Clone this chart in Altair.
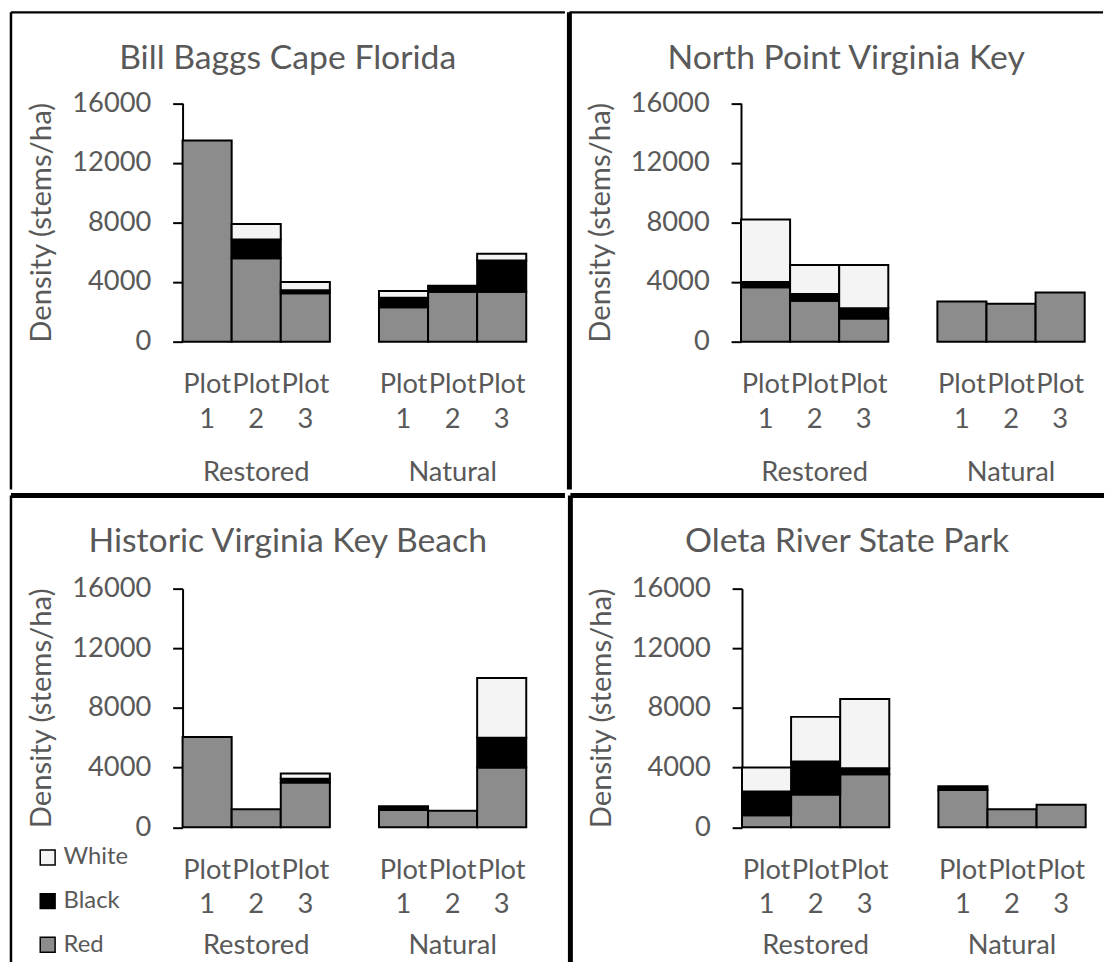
import altair as alt
import pandas as pd

# ---------------- data ----------------
sites = ["Bill Baggs Cape Florida", "North Point Virginia Key",
         "Historic Virginia Key Beach", "Oleta River State Park"]
slots = ["R1", "R2", "R3", "gap", "N1", "N2", "N3"]
bar_slots = ["R1", "R2", "R3", "N1", "N2", "N3"]
groups = ["Restored", "Natural"]
group_slots = ["R2", "N2"]
species = ["White", "Black", "Red"]
y_ticks = [0, 4000, 8000, 12000, 16000]

# values per plot: Restored 1-3, Natural 1-3
bbcf_red = [13500, 5600, 3250, 2300, 3350, 3350]
bbcf_black = [0, 1250, 200, 650, 400, 2100]
bbcf_white = [0, 1050, 550, 450, 0, 450]

npvk_red = [3650, 2750, 1550, 2700, 2550, 3300]
npvk_black = [350, 450, 700, 0, 0, 0]
npvk_white = [4200, 1950, 2900, 0, 0, 0]

hvkb_red = [6050, 1200, 3000, 1150, 1100, 4000]
hvkb_black = [0, 0, 250, 250, 0, 2000]
hvkb_white = [0, 0, 350, 0, 0, 4000]

orsp_red = [800, 2200, 3550, 2500, 1200, 1500]
orsp_black = [1600, 2200, 400, 250, 0, 0]
orsp_white = [1600, 3000, 4650, 0, 0, 0]

site_values = [
    (bbcf_red, bbcf_black, bbcf_white),
    (npvk_red, npvk_black, npvk_white),
    (hvkb_red, hvkb_black, hvkb_white),
    (orsp_red, orsp_black, orsp_white),
]

# ---------------- style ----------------
W_LEFT, W_RIGHT = 558.5, 538
H_TOP, H_BOT = 481, 478
AX = 173.0
SLOT = 49.5
FONT = "Lato"
GRAY = "#595959"
LBL = 27.5
OUTER, INNER = 2.5, 5
ANCHOR = 25  # fixed top extent of the layout (keeps the page origin predictable)
fill_scale = alt.Scale(domain=species, range=["#f4f4f4", "#000000", "#8c8c8c"])


def panel(site, red, black, white, Wp, Hp, dy, group_y, group_base, left_w, top_w,
          show_legend, anchor):
    y_top, y_zero = 91.5 + dy, 332.0 + dy
    rows = []
    for sp, vals, o in (("Red", red, 0), ("Black", black, 1), ("White", white, 2)):
        for s, v in zip(bar_slots, vals):
            if v > 0:
                rows.append({"slot": s, "species": sp, "value": v, "ord": o})
    df = pd.DataFrame(rows)

    xscale = alt.Scale(domain=slots, range=[AX, AX + 7 * SLOT],
                       paddingInner=0, paddingOuter=0)
    yscale = alt.Scale(domain=[0, 16000], range=[y_zero, y_top], nice=False)

    if show_legend:
        leg = alt.Legend(orient="none", legendX=25, legendY=353, title=None,
                         symbolType="square", symbolSize=225,
                         symbolStrokeColor="black", symbolStrokeWidth=1.5,
                         labelFont=FONT, labelFontSize=24, labelColor=GRAY,
                         labelOffset=4, rowPadding=20, padding=0)
    else:
        leg = None

    bars = alt.Chart(df).mark_bar(stroke="black", strokeWidth=2).encode(
        x=alt.X("slot:N", scale=xscale, sort=slots,
                axis=alt.Axis(title=None, domain=False, ticks=False,
                              labelAngle=0,
                              labelExpr="datum.value == 'gap' ? '' : ['Plot', slice(datum.value, 1)]",
                              labelFont=FONT, labelFontSize=LBL, labelColor=GRAY,
                              labelPadding=29.5, labelLineHeight=35,
                              labelOverlap=False,
                              offset=-(Hp - y_zero))),
        y=alt.Y("value:Q", stack="zero", scale=yscale,
                axis=alt.Axis(values=y_ticks, format="d", grid=False,
                              domainColor="black", domainWidth=2,
                              tickColor="black", tickWidth=2, tickSize=10,
                              labelFont=FONT, labelFontSize=LBL, labelColor=GRAY,
                              labelPadding=22, offset=-AX,
                              title="Density (stems/ha)", titleFont=FONT,
                              titleFontSize=29.5, titleFontWeight="normal",
                              titleColor=GRAY, titleX=-142,
                              titleY=(y_top + y_zero) / 2, titleAngle=270,
                              titleBaseline="middle", titleAlign="center")),
        fill=alt.Fill("species:N", scale=fill_scale, legend=leg),
        order=alt.Order("ord:Q"),
    )

    gdf = pd.DataFrame({"slot": group_slots, "label": groups})
    glab = alt.Chart(gdf).mark_text(font=FONT, fontSize=LBL, color=GRAY,
                                    baseline=group_base).encode(
        x=alt.X("slot:N", scale=xscale),
        y=alt.value(group_y),
        text="label:N",
    )

    tdf = pd.DataFrame({"title": [site]})
    tmark = alt.Chart(tdf).mark_text(font=FONT, fontSize=34, color=GRAY,
                                     baseline="alphabetic", align="center").encode(
        x=alt.value(279),
        y=alt.value(57),
        text="title:N",
    )

    edge_df = pd.DataFrame({"k": [0]})
    left_edge = alt.Chart(edge_df).mark_rule(color="black", strokeWidth=left_w).encode(
        x=alt.value(0), y=alt.value(0), y2=alt.value(Hp))
    top_edge = alt.Chart(edge_df).mark_rule(color="black", strokeWidth=top_w).encode(
        y=alt.value(0), x=alt.value(0), x2=alt.value(Wp))
    layers = [bars, glab, tmark, left_edge, top_edge]
    if anchor:
        layers.append(alt.Chart(edge_df).mark_rule(color="white", strokeWidth=1).encode(
            y=alt.value(-ANCHOR), x=alt.value(20), x2=alt.value(30)))

    return alt.layer(*layers).properties(width=Wp, height=Hp)


specs = [
    dict(Wp=W_LEFT, Hp=H_TOP, dy=0, group_y=464, group_base="middle",
         left_w=OUTER, top_w=OUTER, show_legend=False, anchor=True),
    dict(Wp=W_RIGHT, Hp=H_TOP, dy=0, group_y=464, group_base="middle",
         left_w=INNER, top_w=OUTER, show_legend=False, anchor=False),
    dict(Wp=W_LEFT, Hp=H_BOT, dy=2.5, group_y=462, group_base="alphabetic",
         left_w=OUTER, top_w=INNER, show_legend=True, anchor=False),
    dict(Wp=W_RIGHT, Hp=H_BOT, dy=2.5, group_y=462, group_base="alphabetic",
         left_w=INNER, top_w=INNER, show_legend=False, anchor=False),
]
panels = [panel(s, *v, **sp) for s, v, sp in zip(sites, site_values, specs)]

chart = alt.vconcat(
    alt.hconcat(panels[0], panels[1], spacing=0),
    alt.hconcat(panels[2], panels[3], spacing=0),
    spacing=0,
).resolve_scale(fill="independent").resolve_legend(fill="independent").properties(
    padding={"left": 0, "top": 3 - ANCHOR - 3.5, "right": 0, "bottom": -15}
).configure(background="white").configure_view(stroke=None)

chart.save("out.html", embed_options={"renderer": "svg", "actions": False})
